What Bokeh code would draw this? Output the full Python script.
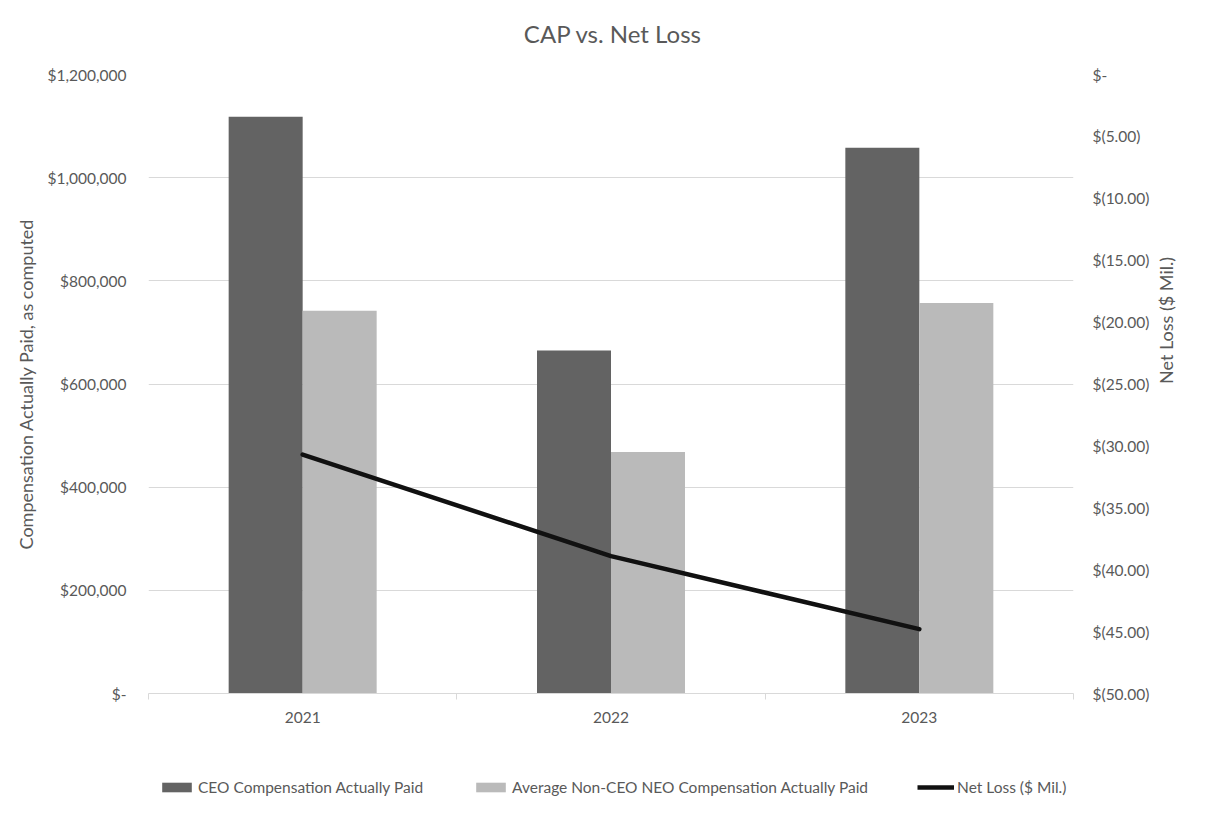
import math
from bokeh.plotting import figure
from bokeh.layouts import column
from bokeh.models import (Range1d, LinearAxis, FixedTicker, Legend, LegendItem,
                          ColumnDataSource, Label)
from bokeh.embed import file_html
from bokeh.resources import INLINE

# ---- data ----
title_text = "CAP vs. Net Loss"
years = ["2021", "2022", "2023"]
ceo_cap = [1118000, 665000, 1058000]
neo_cap = [742000, 468000, 757000]
net_loss = [-30.7, -38.9, -44.8]

left_ticks = [0, 200000, 400000, 600000, 800000, 1000000, 1200000]
left_labels = ["$-", "$200,000", "$400,000", "$600,000", "$800,000",
               "$1,000,000", "$1,200,000"]
right_ticks = [0, -5, -10, -15, -20, -25, -30, -35, -40, -45, -50]
right_labels = ["$-", "$(5.00)", "$(10.00)", "$(15.00)", "$(20.00)", "$(25.00)",
                "$(30.00)", "$(35.00)", "$(40.00)", "$(45.00)", "$(50.00)"]

series_names = ["CEO Compensation Actually Paid",
                "Average Non-CEO NEO Compensation Actually Paid",
                "Net Loss ($ Mil.)"]

FONT = "Lato"
GRAY = "#595959"
LIGHT = "#d9d9d9"
LBL = "15.5px"
TTL = "18px"
CEO_C = "#636363"
NEO_C = "#bababa"
LINE_C = "#111111"

W = 1212
H_TOP = 64
H_MAIN = 686
H_LEG = 50


def strip(h):
    f = figure(width=W, height=h, output_backend="svg", toolbar_location=None,
               x_range=Range1d(0, 1), y_range=Range1d(0, h),
               x_axis_type=None, y_axis_type=None,
               min_border_left=0, min_border_right=0,
               min_border_top=0, min_border_bottom=0)
    f.outline_line_color = None
    f.xgrid.visible = False
    f.ygrid.visible = False
    f.background_fill_color = "white"
    f.border_fill_color = "white"
    return f


# ---- title strip ----
tp = strip(H_TOP)
tp.add_layout(Label(x=0.5, y=H_TOP - 33, text=title_text, text_align="center",
                    text_baseline="middle", text_font=FONT,
                    text_font_size="24px", text_color=GRAY, x_offset=2))

# ---- main chart ----
n = len(years)
centers = [i + 0.5 for i in range(n)]
bar_w = 0.24

src = ColumnDataSource(dict(
    center=centers,
    ceo_x=[c - bar_w / 2 for c in centers],
    neo_x=[c + bar_w / 2 for c in centers],
    ceo=ceo_cap, neo=neo_cap, loss=net_loss))

p = figure(width=W, height=H_MAIN, output_backend="svg", toolbar_location=None,
           x_range=Range1d(0, n), y_range=Range1d(0, 1200000),
           min_border_left=148, min_border_right=W - 1073,
           min_border_top=74 - H_TOP, min_border_bottom=H_TOP + H_MAIN - 693)
p.outline_line_color = None
p.background_fill_color = "white"
p.border_fill_color = "white"

# x axis
xa = p.xaxis[0]
xa.ticker = FixedTicker(ticks=centers, minor_ticks=list(range(n + 1)))
xa.major_label_overrides = {c: y for c, y in zip(centers, years)}
xa.axis_line_color = LIGHT
xa.axis_line_width = 1
xa.major_tick_line_color = None
xa.major_tick_in = 0
xa.major_tick_out = 6
xa.minor_tick_in = 0
xa.minor_tick_out = 6
xa.minor_tick_line_color = LIGHT
xa.major_label_standoff = 12
xa.major_label_text_font = FONT
xa.major_label_text_font_size = LBL
xa.major_label_text_color = GRAY
p.xgrid.visible = False

# left axis
ya = p.yaxis[0]
lt = FixedTicker(ticks=left_ticks, minor_ticks=[])
ya.ticker = lt
ya.major_label_overrides = {t: l for t, l in zip(left_ticks, left_labels)}
ya.axis_line_color = None
ya.major_tick_line_color = None
ya.minor_tick_line_color = None
ya.major_tick_in = 0
ya.major_tick_out = 0
ya.major_label_standoff = 22
ya.major_label_text_font = FONT
ya.major_label_text_font_size = LBL
ya.major_label_text_color = GRAY
ya.axis_label = "Compensation Actually Paid, as computed"
ya.axis_label_text_font = FONT
ya.axis_label_text_font_size = TTL
ya.axis_label_text_font_style = "normal"
ya.axis_label_text_color = GRAY
ya.axis_label_standoff = 8
p.ygrid[0].ticker = lt
p.ygrid[0].grid_line_color = LIGHT
p.ygrid[0].grid_line_width = 1

# right axis
p.extra_y_ranges = {"loss": Range1d(-50, 0)}
ra = LinearAxis(y_range_name="loss",
                ticker=FixedTicker(ticks=right_ticks, minor_ticks=[]))
ra.major_label_overrides = {t: l for t, l in zip(right_ticks, right_labels)}
ra.axis_line_color = None
ra.major_tick_line_color = None
ra.minor_tick_line_color = None
ra.major_tick_in = 0
ra.major_tick_out = 0
ra.major_label_standoff = 19
ra.major_label_text_font = FONT
ra.major_label_text_font_size = LBL
ra.major_label_text_color = GRAY
ra.axis_label = series_names[2]
ra.axis_label_text_font = FONT
ra.axis_label_text_font_size = TTL
ra.axis_label_text_font_style = "normal"
ra.axis_label_text_color = GRAY
ra.axis_label_standoff = 14
ra.axis_label_orientation = math.pi / 2
p.add_layout(ra, "right")

# glyphs
p.vbar(x="ceo_x", top="ceo", bottom=0, width=bar_w, source=src,
       fill_color=CEO_C, line_color=None)
p.vbar(x="neo_x", top="neo", bottom=0, width=bar_w, source=src,
       fill_color=NEO_C, line_color=None)
p.line(x="center", y="loss", source=src, y_range_name="loss",
       line_color=LINE_C, line_width=4.5, line_cap="round", line_join="round")

# ---- legend strip ----
lp = strip(H_LEG)
dummy = ColumnDataSource(dict(x=[-10, -9], y=[-10, -10]))
l_ceo = lp.vbar(x="x", top="y", width=0.1, source=dummy,
                fill_color=CEO_C, line_color=None)
l_neo = lp.vbar(x="x", top="y", width=0.1, source=dummy,
                fill_color=NEO_C, line_color=None)
l_loss = lp.line(x="x", y="y", source=dummy, line_color=LINE_C, line_width=4.5)

legend = Legend(items=[LegendItem(label=series_names[0], renderers=[l_ceo]),
                       LegendItem(label=series_names[1], renderers=[l_neo]),
                       LegendItem(label=series_names[2], renderers=[l_loss])],
                orientation="horizontal", location=(10, 4),
                glyph_width=37, glyph_height=12, label_standoff=3,
                spacing=49, padding=0, margin=0,
                border_line_color=None, background_fill_alpha=0,
                label_text_font=FONT, label_text_font_size=LBL,
                label_text_color=GRAY)
lp.add_layout(legend, "center")

layout = column(tp, p, lp, spacing=0)
open("out.html", "w").write(file_html(layout, INLINE))
